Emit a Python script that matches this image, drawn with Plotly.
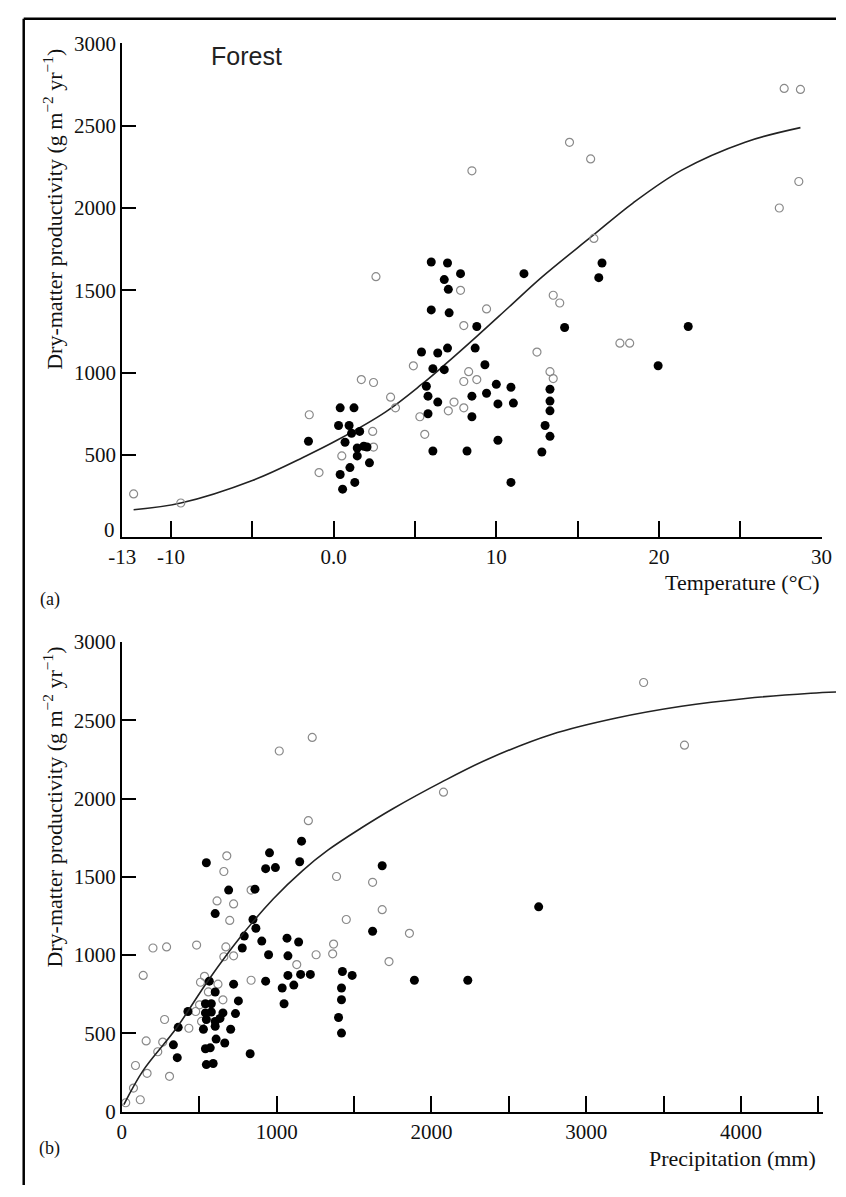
import plotly.graph_objects as go

# ---------------- Panel (a): temperature ----------------
temp_open_T = [-12.3, -9.4, -1.5, -0.9, 0.5, 1.7, 2.45, 2.4, 2.45, 3.5, 3.8, 4.9, 2.6, 5.3, 5.6,
               7.8, 9.4, 8.0, 13.5, 13.9, 12.5, 8.3, 8.0, 8.8, 7.4, 7.05, 8.0, 13.3, 13.5,
               8.5, 14.5, 15.8, 16.0, 27.7, 28.7, 28.6, 27.4, 17.6, 18.2]
temp_open_P = [263, 208, 744, 393, 494, 958, 940, 643, 548, 851, 786, 1041, 1583, 732, 625,
               1500, 1387, 1286, 1470, 1423, 1125, 1006, 946, 958, 821, 768, 786, 1006, 964,
               2226, 2399, 2298, 1815, 2726, 2720, 2161, 2000, 1179, 1179]

temp_fill_T = [0.4, 1.25, 0.3, 0.95, 1.1, 1.6, -1.55, 0.7, 1.45, 1.85, 2.05, 1.45, 2.2, 1.0, 0.4, 1.3, 0.55,
               6.0, 7.0, 7.8, 6.8, 7.05, 11.7, 16.5, 16.3, 6.0, 7.1, 8.8, 14.2, 8.7, 5.4, 6.4, 7.0,
               6.1, 6.8, 9.3, 5.7, 5.8, 6.4, 10.0, 10.9, 9.4, 8.5, 10.1, 11.05, 5.8, 8.5,
               13.3, 13.3, 13.3, 13.0, 13.3, 12.8, 10.1, 6.1, 8.2, 10.9, 21.8, 19.95]
temp_fill_P = [786, 786, 679, 679, 631, 643, 583, 577, 542, 553, 548, 494, 452, 423, 381, 333, 292,
               1672, 1666, 1601, 1565, 1506, 1601, 1666, 1577, 1381, 1363, 1280, 1274, 1149, 1125, 1119, 1149,
               1024, 1018, 1048, 917, 857, 821, 929, 911, 875, 857, 810, 815, 750, 732,
               899, 827, 768, 679, 613, 518, 589, 524, 524, 333, 1280, 1042]

temp_curve_T = [-12.3, -9.4, -5.0, -1.7, 0.2, 3.2, 5.4, 6.8, 8.8, 10.8, 12.8, 15.9, 18.4, 21.4, 25.3, 28.7]
temp_curve_P = [167, 208, 345, 494, 589, 762, 928, 1045, 1220, 1400, 1580, 1830, 2030, 2230, 2400, 2488]

# ---------------- Panel (b): precipitation ----------------
prec_open_X = [1017, 1230, 1205, 678, 659, 1387, 1620, 835, 3371, 3635, 2078, 1682, 1450, 1858, 1726,
               1368, 1362, 1255, 615, 722, 697, 201, 289, 483, 138, 672, 659, 722, 835, 1130,
               534, 508, 621, 559, 653, 502, 477, 515, 433, 276, 157, 264, 232, 163, 88, 308, 75, 119, 25]
prec_open_P = [2304, 2391, 1859, 1634, 1534, 1502, 1465, 1415, 2742, 2341, 2041, 1290, 1227, 1139, 958,
               1070, 1008, 1002, 1346, 1327, 1221, 1045, 1052, 1064, 870, 1052, 989, 995, 839, 939,
               864, 826, 814, 764, 714, 682, 639, 576, 532, 588, 451, 444, 382, 244, 294, 225, 150, 75, 56]

prec_fill_X = [546, 954, 929, 992, 1161, 1149, 1682, 690, 860, 603, 847, 866, 791, 778, 904, 948, 1067,
               1142, 1073, 1073, 1155, 1036, 1111, 1048, 929, 722, 753, 734, 703, 565, 603, 540, 578,
               540, 578, 653, 546, 603, 634, 527, 603, 665, 609, 540, 571, 546, 590, 427, 364, 333, 358,
               829, 1620, 1218, 1425, 1488, 1419, 1419, 1400, 1419, 1890, 2235, 2693]
prec_fill_P = [1590, 1653, 1552, 1559, 1728, 1596, 1571, 1415, 1421, 1265, 1227, 1171, 1121, 1045, 1089, 1002, 1108,
               1083, 995, 870, 876, 789, 808, 689, 833, 814, 707, 626, 526, 833, 764, 689, 689,
               630, 636, 630, 588, 576, 595, 526, 545, 438, 463, 401, 407, 300, 307, 639, 538, 426, 344,
               369, 1152, 876, 895, 870, 789, 714, 601, 501, 839, 839, 1308]

prec_curve_X = [13, 138, 352, 559, 766, 979, 1168, 1331, 1544, 1751, 2065, 2360, 2775, 3195, 3616, 4030, 4451, 4614]
prec_curve_P = [44, 263, 532, 839, 1115, 1360, 1540, 1670, 1810, 1935, 2105, 2250, 2410, 2515, 2590, 2640, 2673, 2681]

y_ticks_top = [500, 1000, 1500, 2000, 2500, 3000]
y_ticks_bot = [0, 500, 1000, 1500, 2000, 2500, 3000]
temp_tickvals = [-13, -10, 0, 10, 20, 30]
temp_ticktext = ["-13", "-10", "0.0", "10", "20", "30"]
prec_tickvals = [0, 1000, 2000, 3000, 4000]

SERIF = "Liberation Serif"
W, H = 846, 1197

open_marker = dict(symbol="circle-open", size=8, color="#8a8a8a", line=dict(width=1.2, color="#8a8a8a"))
fill_marker = dict(symbol="circle", size=9, color="black")

fig = go.Figure()
fig.add_trace(go.Scatter(x=temp_curve_T, y=temp_curve_P, mode="lines", line=dict(color="#222", width=1.6, shape="spline", smoothing=1.0),
                         xaxis="x", yaxis="y", showlegend=False, hoverinfo="skip"))
fig.add_trace(go.Scatter(x=temp_open_T, y=temp_open_P, mode="markers", marker=open_marker, xaxis="x", yaxis="y", showlegend=False))
fig.add_trace(go.Scatter(x=temp_fill_T, y=temp_fill_P, mode="markers", marker=fill_marker, xaxis="x", yaxis="y", showlegend=False))

fig.add_trace(go.Scatter(x=prec_curve_X, y=prec_curve_P, mode="lines", line=dict(color="#222", width=1.6, shape="spline", smoothing=1.0),
                         xaxis="x3", yaxis="y2", showlegend=False, hoverinfo="skip"))
fig.add_trace(go.Scatter(x=prec_open_X, y=prec_open_P, mode="markers", marker=open_marker, xaxis="x2", yaxis="y2", showlegend=False))
fig.add_trace(go.Scatter(x=prec_fill_X, y=prec_fill_P, mode="markers", marker=fill_marker, xaxis="x2", yaxis="y2", showlegend=False))

axis_common = dict(showline=True, linecolor="black", linewidth=2, ticks="inside", tickcolor="black", tickwidth=2,
                   showgrid=False, zeroline=False, tickfont=dict(family=SERIF, size=21, color="#111"), fixedrange=True)

px_top0, px_top3000 = 536, 32
px_bot0, px_bot3000 = 1122, 643

fig.update_layout(
    width=W, height=H, margin=dict(l=0, r=0, t=0, b=0),
    paper_bgcolor="white", plot_bgcolor="rgba(0,0,0,0)",
    xaxis=dict(domain=[111.4 / W, 832 / W], range=[-13, 30.05], tickvals=temp_tickvals, ticktext=temp_ticktext,
               ticklen=16, anchor="y",
               minor=dict(tick0=0, dtick=5, ticks="inside", ticklen=16, tickwidth=2, tickcolor="black", showgrid=False),
               **axis_common),
    yaxis=dict(domain=[(H - px_top0) / H, (H - px_top3000) / H], range=[0, 3000], tickvals=y_ticks_top,
               ticklen=14, anchor="x", **axis_common),
    xaxis2=dict(domain=[111 / W, 833 / W], range=[0, (833 - 111) / 0.1593], tickvals=prec_tickvals,
                ticklen=16, anchor="y2",
                minor=dict(tick0=0, dtick=500, ticks="inside", ticklen=16, tickwidth=2, tickcolor="black", showgrid=False),
                **axis_common),
    yaxis2=dict(domain=[(H - px_bot0) / H, (H - px_bot3000) / H], range=[0, 3000], tickvals=y_ticks_bot,
                ticklen=14, anchor="x2", **axis_common),
    xaxis3=dict(domain=[111 / W, 1.0], range=[0, (846 - 111) / 0.1593], visible=False, anchor="y2", fixedrange=True),
)

ytitle = "Dry-matter productivity (g m<sup>−2</sup> yr<sup>−1</sup>)"
ann = [
    dict(text=ytitle, x=40 / W, y=(H - 201) / H, textangle=-90, font=dict(family=SERIF, size=22, color="#111")),
    dict(text=ytitle, x=40 / W, y=(H - 811) / H, textangle=-90, font=dict(family=SERIF, size=22, color="#111")),
    dict(text="Temperature (°C)", x=831 / W, y=(H - 582) / H, xanchor="right", font=dict(family=SERIF, size=22, color="#111")),
    dict(text="Precipitation (mm)", x=827 / W, y=(H - 1170) / H, xanchor="right", font=dict(family=SERIF, size=22, color="#111")),
    dict(text="(a)", x=37 / W, y=(H - 600) / H, font=dict(family=SERIF, size=18, color="#111")),
    dict(text="(b)", x=37 / W, y=(H - 1160) / H, font=dict(family=SERIF, size=18, color="#111")),
    dict(text="Forest", x=239 / W, y=(H - 45) / H, font=dict(family="Liberation Sans", size=25, color="#222")),
    dict(text="0", x=106 / W, y=(H - 529) / H, xanchor="right", font=dict(family=SERIF, size=21, color="#111")),
]
for a in ann:
    a.update(xref="paper", yref="paper", showarrow=False)
    a.setdefault("xanchor", "center")
    a.setdefault("yanchor", "middle")
fig.update_layout(annotations=ann)

fig.update_layout(shapes=[
    dict(type="line", xref="paper", yref="paper", x0=10 / W, x1=1.0, y0=(H - 7) / H, y1=(H - 7) / H, line=dict(color="black", width=2.5)),
    dict(type="line", xref="paper", yref="paper", x0=10 / W, x1=10 / W, y0=0, y1=(H - 7) / H, line=dict(color="black", width=2.5)),
])

fig.write_html("out.html", config={"displayModeBar": False, "displaylogo": False},
               post_script="document.body.style.margin='0px';document.body.style.overflow='hidden';")
